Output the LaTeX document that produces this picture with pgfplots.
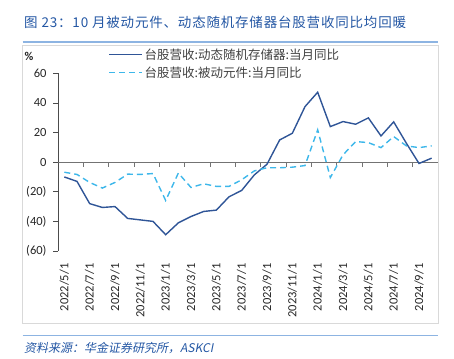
\documentclass[border=0pt]{standalone}
\usepackage{pgfplots}
\pgfplotsset{compat=1.18}
\usepackage{pgfplotstable}
\usepackage{fontspec}
\setmainfont{Carlito}
\newfontfamily\cjk{Noto Sans CJK SC}
\newfontfamily\cjktitle[LetterSpace=6]{Noto Sans CJK SC}
\newfontfamily\cjkit[FakeSlant=0.2]{Noto Sans CJK SC}
\definecolor{dram}{HTML}{2F5597}
\definecolor{passive}{HTML}{3DB7EA}
\definecolor{titleblue}{HTML}{2457A4}
\definecolor{ruleblue}{HTML}{8DB4E2}
\pgfplotstableread{
x y
0 -10
1 -13
2 -28
3 -30.6
4 -30
5 -38
6 -39
7 -40
8 -49
9 -41
10 -36.7
11 -33.3
12 -32.4
13 -23.4
14 -19.1
15 -8.6
16 -1.4
17 15
18 19.5
19 37.5
20 47.2
21 24
22 27.4
23 25.6
24 29.9
25 17.7
26 27.2
27 12.8
28 -0.9
29 2.7
}\dramtable
\pgfplotstableread{
x y
0 -6.8
1 -8.3
2 -13.7
3 -17.5
4 -13.7
5 -8.1
6 -8.3
7 -7.7
8 -25.9
9 -7.4
10 -17.1
11 -14.6
12 -16.4
13 -16.4
14 -11.9
15 -5.9
16 -3.8
17 -3.8
18 -3.4
19 -2.3
20 21.8
21 -10.4
22 4.9
23 13.9
24 13.2
25 9.8
26 17.3
27 11
28 9.8
29 11
}\passivetable
\begin{document}
\begin{tikzpicture}[x=1pt,y=1pt]
\path[use as bounding box] (0,0) rectangle (454,358);
% title
\node[anchor=west, inner sep=0pt, text=titleblue] at (24,335.5) {\cjktitle\fontsize{13.5}{15}\selectfont 图 23：10 月被动元件、动态随机存储器台股营收同比均回暖};
\draw[ruleblue, line width=1.5pt] (22.7,316) -- (438,316);
% chart area border
\draw[black!15, line width=0.5pt] (22.7,35) rectangle (438,313);
% footer
\draw[ruleblue, line width=1pt] (22.7,23) -- (438,23);
\node[anchor=west, inner sep=0pt, text=titleblue] at (24,10) {\cjkit\fontsize{12}{14}\selectfont 资料来源：华金证券研究所，ASKCI};
% percent
\node[inner sep=0pt, text=black!85] at (29,302) {\fontsize{12}{14}\selectfont\bfseries \%};
\begin{axis}[
  at={(58pt,107pt)}, anchor=south west, scale only axis,
  width=380pt, height=177.7pt,
  xmin=-0.5, xmax=29.5, ymin=-60, ymax=60,
  axis x line*=bottom, axis y line*=left,
  x axis line style={draw=none},
  y axis line style={draw=black!70, line width=0.8pt},
  xtick={0,2,...,28},
  xticklabels={2022/5/1,2022/7/1,2022/9/1,2022/11/1,2023/1/1,2023/3/1,2023/5/1,2023/7/1,2023/9/1,2023/11/1,2024/1/1,2024/3/1,2024/5/1,2024/7/1,2024/9/1},
  xtick style={draw=none},
  xticklabel shift=4pt,
  xticklabel style={rotate=90, anchor=east, font=\fontsize{12.5}{14}\selectfont, text=black!85},
  ytick={-60,-40,...,60},
  yticklabels={(60),(40),(20),0,20,40,60},
  yticklabel style={xshift=-3pt, font=\fontsize{12.5}{14}\selectfont, text=black!85},
  tick align=outside, major tick length=5pt,
  ytick style={draw=black!70, line width=0.8pt},
  clip=false,
  legend cell align=left,
  legend image code/.code={\draw[#1] (0pt,0pt) -- (33pt,0pt);},
  legend style={at={(0.124,1.162)}, anchor=north west, draw=none, fill=none,
    font=\cjk\fontsize{12.5}{14}\selectfont, text=black!75, row sep=2pt},
]
\draw[black!55, line width=0.8pt] (axis cs:-0.5,0) -- (axis cs:29.5,0);
\pgfplotsinvokeforeach{1.5,3.5,...,27.5}{\draw[black!55, line width=0.8pt] (axis cs:#1,0) -- ++(0pt,-5pt);}
\addplot[dram, line width=1.4pt] table[x=x,y=y] {\dramtable};
\addlegendentry{台股营收:动态随机存储器:当月同比}
\addplot[passive, line width=1.4pt, dash pattern=on 6pt off 4pt] table[x=x,y=y] {\passivetable};
\addlegendentry{台股营收:被动元件:当月同比}
\end{axis}
\end{tikzpicture}
\end{document}
